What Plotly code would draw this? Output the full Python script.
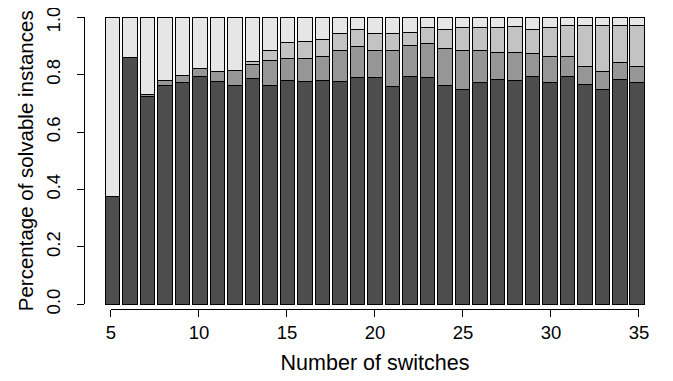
import plotly.graph_objects as go

switches = list(range(5, 36))
# cumulative tops
dark = [0.376, 0.861, 0.725, 0.763, 0.773, 0.794, 0.777, 0.763, 0.786, 0.763, 0.779,
        0.776, 0.780, 0.776, 0.791, 0.791, 0.758, 0.794, 0.791, 0.762, 0.748, 0.772,
        0.785, 0.779, 0.795, 0.772, 0.793, 0.767, 0.750, 0.782, 0.772]
medium_top = [0.376, 0.861, 0.732, 0.780, 0.798, 0.820, 0.812, 0.814, 0.836, 0.848, 0.858,
              0.855, 0.864, 0.883, 0.899, 0.886, 0.885, 0.902, 0.907, 0.893, 0.883, 0.885,
              0.878, 0.878, 0.875, 0.864, 0.865, 0.828, 0.811, 0.842, 0.828]
light_top = [0.376, 0.861, 0.732, 0.780, 0.798, 0.820, 0.812, 0.814, 0.845, 0.883, 0.913,
             0.915, 0.923, 0.943, 0.958, 0.944, 0.945, 0.948, 0.963, 0.959, 0.964, 0.963,
             0.963, 0.969, 0.958, 0.964, 0.972, 0.971, 0.971, 0.970, 0.971]
x_ticks = [5, 10, 15, 20, 25, 30, 35]
y_ticks = [0, 0.2, 0.4, 0.6, 0.8, 1.0]
y_ticktext = ["0.0", "0.2", "0.4", "0.6", "0.8", "1.0"]

medium = [round(m - d, 4) for m, d in zip(medium_top, dark)]
light = [round(l - m, 4) for l, m in zip(light_top, medium_top)]
vlight = [round(1 - l, 4) for l in light_top]

colors = ["#4D4D4D", "#969696", "#C3C3C3", "#E6E6E6"]
series = [dark, medium, light, vlight]

FONT = "Liberation Sans, Arial, Helvetica, sans-serif"
TICK = 18.5

fig = go.Figure()
for vals, col in zip(series, colors):
    fig.add_trace(go.Bar(
        x=switches, y=vals, width=0.84,
        marker=dict(color=col, line=dict(color="black", width=1)),
        showlegend=False, hoverinfo="skip",
    ))

# carrier traces for the R-style axes
for ya in ["y2", "y3", "y4"]:
    fig.add_trace(go.Scatter(x=[5, 35], y=[0, 1], xaxis="x2", yaxis=ya,
                             mode="markers", marker=dict(opacity=0),
                             showlegend=False, hoverinfo="skip"))

label_axis = dict(overlaying="y2", range=[0, 1], anchor="free", position=0,
                  tickangle=-90, ticks="outside", ticklen=17, tickcolor="rgba(0,0,0,0)",
                  showline=False, showgrid=False, zeroline=False, automargin=False,
                  tickfont=dict(size=TICK), ticklabeloverflow="allow")

fig.update_layout(
    barmode="stack",
    width=665, height=373,
    margin=dict(l=76, r=0, t=0, b=66, pad=0),
    paper_bgcolor="white", plot_bgcolor="rgba(0,0,0,0)",
    font=dict(family=FONT, size=TICK, color="black"),
    xaxis=dict(range=[3.362, 37.039], visible=False, fixedrange=True),
    yaxis=dict(range=[-0.03728, 1.0324], visible=False, fixedrange=True),
    xaxis2=dict(domain=[0.04584, 0.94228], range=[5, 35], anchor="free", position=0.0205,
                tickvals=x_ticks, ticks="outside", ticklen=7,
                tickwidth=1, tickcolor="black", showline=True, linecolor="black",
                linewidth=1, showgrid=False, zeroline=False, automargin=False,
                tickfont=dict(size=TICK), ticklabeloverflow="allow",
                title=dict(text="Number of switches", font=dict(size=21.5), standoff=13)),
    yaxis2=dict(domain=[0.03485, 0.96971], range=[0, 1], anchor="free", position=0,
                tickvals=y_ticks, showticklabels=False,
                ticks="outside", ticklen=7, tickwidth=1, tickcolor="black",
                showline=True, linecolor="black", linewidth=1, showgrid=False,
                zeroline=False, automargin=False),
    yaxis3=dict(label_axis, tickvals=y_ticks[:-1], ticktext=y_ticktext[:-1],
                title=dict(text="Percentage of solvable instances", font=dict(size=20.5),
                           standoff=2)),
    yaxis4=dict(label_axis, tickvals=y_ticks[-1:], ticktext=y_ticktext[-1:],
                ticklabelshift=5),
)

fig.write_html("out.html")
